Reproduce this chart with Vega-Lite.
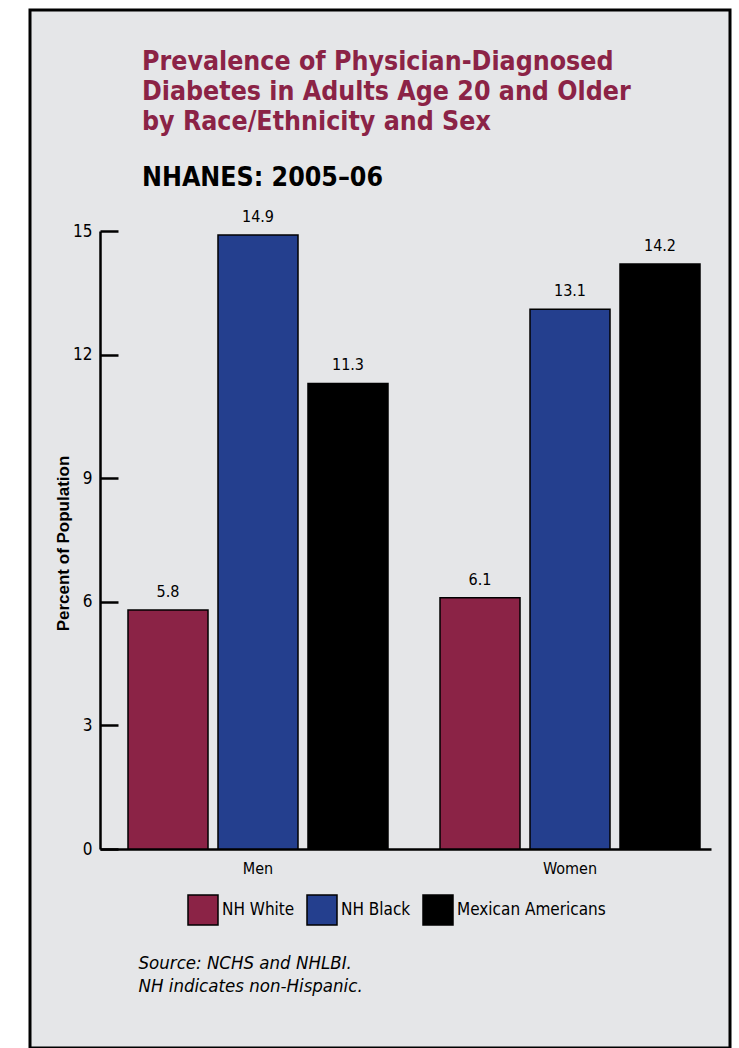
{
  "$schema": "https://vega.github.io/schema/vega-lite/v6.json",
  "autosize": {"type": "none"},
  "width": 700,
  "height": 1038,
  "padding": {"left": 30, "top": 10, "right": 9, "bottom": 0},
  "background": "white",
  "config": {
    "view": {"fill": "#e5e6e8", "stroke": "#000000", "strokeWidth": 3},
    "font": "Liberation Sans Narrow, DejaVu Sans Condensed, Liberation Sans, sans-serif"
  },
  "title": {
    "text": ["Prevalence of Physician-Diagnosed", "Diabetes in Adults Age 20 and Older", "by Race/Ethnicity and Sex"],
    "subtitle": "NHANES: 2005–06",
    "anchor": "start",
    "frame": "group",
    "orient": "top",
    "dx": 112,
    "offset": -181,
    "font": "Liberation Sans Narrow, DejaVu Sans Condensed, Liberation Sans, sans-serif",
    "fontSize": 26.5,
    "fontWeight": "bold",
    "color": "#8b2346",
    "lineHeight": 30,
    "subtitleFont": "Liberation Sans Narrow, DejaVu Sans Condensed, Liberation Sans, sans-serif",
    "subtitleFontSize": 26.5,
    "subtitleFontWeight": "bold",
    "subtitleColor": "#000000",
    "subtitlePadding": 29
  },
  "data": {
    "values": [
      {"sex": "Men", "group": "NH White", "pct": 5.8},
      {"sex": "Men", "group": "NH Black", "pct": 14.9},
      {"sex": "Men", "group": "Mexican Americans", "pct": 11.3},
      {"sex": "Women", "group": "NH White", "pct": 6.1},
      {"sex": "Women", "group": "NH Black", "pct": 13.1},
      {"sex": "Women", "group": "Mexican Americans", "pct": 14.2}
    ]
  },
  "encoding": {
    "x": {
      "field": "sex",
      "type": "nominal",
      "sort": ["Men", "Women"],
      "scale": {"range": [70, 681], "paddingInner": 0.1667, "paddingOuter": 0.0625, "align": 0.718},
      "axis": {
        "orient": "bottom",
        "offset": -199,
        "domain": true,
        "domainColor": "#000000",
        "domainWidth": 2.5,
        "ticks": false,
        "labelAngle": 0,
        "labelFontSize": 16,
        "labelColor": "#000000",
        "labelPadding": 11,
        "title": ["Source: NCHS and NHLBI.", "NH indicates non-Hispanic."],
        "titleFontSize": 18.5,
        "titleFontWeight": "normal",
        "titleFontStyle": "italic",
        "titleColor": "#000000",
        "titleAlign": "left",
        "titleAnchor": "start",
        "titleBaseline": "alphabetic",
        "titleLineHeight": 23,
        "titleX": 108,
        "titleY": 119
      }
    },
    "xOffset": {
      "field": "group",
      "type": "nominal",
      "sort": ["NH White", "NH Black", "Mexican Americans"],
      "scale": {"paddingInner": 0.111, "paddingOuter": 0}
    },
    "y": {
      "field": "pct",
      "type": "quantitative",
      "scale": {"domain": [0, 15], "range": [839, 221], "nice": false, "zero": true},
      "axis": {
        "orient": "left",
        "offset": -70,
        "values": [0, 3, 6, 9, 12, 15],
        "grid": false,
        "domain": true,
        "domainColor": "#000000",
        "domainWidth": 2.5,
        "ticks": true,
        "tickSize": -18,
        "tickWidth": 2.5,
        "tickColor": "#000000",
        "labelFontSize": 17,
        "labelColor": "#000000",
        "labelPadding": 26,
        "title": "Percent of Population",
        "titleFont": "Liberation Sans, Arial, sans-serif",
        "titleFontSize": 17,
        "titleFontWeight": "bold",
        "titleColor": "#000000",
        "titleBaseline": "alphabetic",
        "titleAngle": -90,
        "titleX": -32,
        "titleY": 533
      }
    }
  },
  "layer": [
    {
      "mark": {"type": "bar", "stroke": "#000000", "strokeWidth": 1.5},
      "encoding": {
        "color": {
          "field": "group",
          "type": "nominal",
          "sort": ["NH White", "NH Black", "Mexican Americans"],
          "scale": {"domain": ["NH White", "NH Black", "Mexican Americans"], "range": ["#8b2346", "#243f8e", "#000000"]},
          "legend": {
            "orient": "none",
            "legendX": 157,
            "legendY": 884,
            "direction": "horizontal",
            "columns": 3,
            "title": null,
            "padding": 0,
            "symbolType": "square",
            "symbolSize": 900,
            "symbolStrokeColor": "#000000",
            "symbolStrokeWidth": 1.5,
            "symbolOpacity": 1,
            "labelFontSize": 17,
            "labelColor": "#000000",
            "labelOffset": 3,
            "columnPadding": 9,
            "labelLimit": 300
          }
        }
      }
    },
    {
      "mark": {"type": "text", "baseline": "alphabetic", "dy": -13, "fontSize": 16, "color": "#000000"},
      "encoding": {
        "text": {"field": "pct", "type": "quantitative", "format": ".1f"}
      }
    }
  ]
}
